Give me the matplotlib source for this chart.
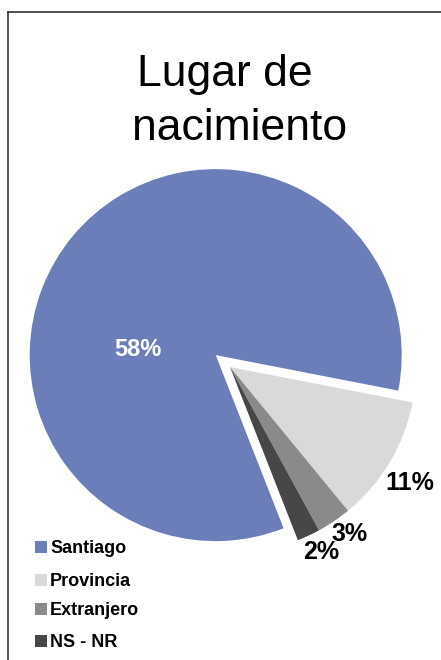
import matplotlib
matplotlib.use("Agg")
import matplotlib.pyplot as plt
from matplotlib.patches import Rectangle
from matplotlib.lines import Line2D

# data
categories = ["Santiago", "Provincia", "Extranjero", "NS - NR"]
shares = [84, 11, 3, 2]              # wedge sizes as drawn
pct_labels = ["58%", "11%", "3%", "2%"]  # label texts as printed
colors = ["#6b7eb9", "#d9d9d9", "#8a8a8a", "#474747"]
explode = [0.1, 0, 0, 0]

W, H = 441, 660
fig = plt.figure(figsize=(W / 100, H / 100), dpi=100)
fig.patch.set_facecolor("white")

# pie axes: centre (230, 367) px, radius 186 px
R = 186
cx, cy = 230, 367
ax = fig.add_axes([(cx - R) / W, (H - cy - R) / H, 2 * R / W, 2 * R / H])

wedges, _ = ax.pie(shares, colors=colors, explode=explode, startangle=-68.6,
                   counterclock=False, radius=1.0,
                   wedgeprops=dict(linewidth=0))
for w in wedges:
    w.set_clip_on(False)
# pie() sets its own limits, so put ours back afterwards
ax.set_xlim(-1, 1)
ax.set_ylim(-1, 1)
ax.set_aspect("equal")
ax.axis("off")

# percentage labels (pixel spots converted to data units)
label_px = [(138, 350), (410, 483), (350, 534), (321, 552)]
label_col = ["white", "black", "black", "black"]
label_size = [17, 18, 18, 18]
for txt, (px, py), c, s in zip(pct_labels, label_px, label_col, label_size):
    ax.text((px - cx) / R, (cy - py) / R, txt, color=c, fontsize=s,
            fontweight="bold", family=["Liberation Sans", "DejaVu Sans"],
            ha="center", va="center", clip_on=False)

# title
tfam = ["Liberation Sans", "DejaVu Sans"]
fig.text(225 / W, 1 - 86 / H, "Lugar de", ha="center", va="baseline",
         fontsize=32, family=tfam)
fig.text(240 / W, 1 - 140 / H, "nacimiento", ha="center", va="baseline",
         fontsize=32, family=tfam)

# legend, drawn by hand to keep the uneven spacing
leg_y = [553, 586, 615, 647]
for name, c, by in zip(categories, colors, leg_y):
    fig.patches.append(Rectangle((35 / W, 1 - by / H), 12 / W, 12 / H,
                                 transform=fig.transFigure, facecolor=c,
                                 edgecolor="none"))
    fig.text(50 / W, 1 - by / H, name, ha="left", va="baseline",
             fontsize=13, fontweight="bold",
             family=["Liberation Sans", "DejaVu Sans"])

# frame lines (left and top only)
fig.add_artist(Line2D([8 / W, 8 / W], [0, 1 - 12 / H], color="#333333",
                      lw=1.2, transform=fig.transFigure))
fig.add_artist(Line2D([8 / W, 1], [1 - 12 / H, 1 - 12 / H], color="#333333",
                      lw=1.2, transform=fig.transFigure))

fig.savefig("out.png", dpi=100)
